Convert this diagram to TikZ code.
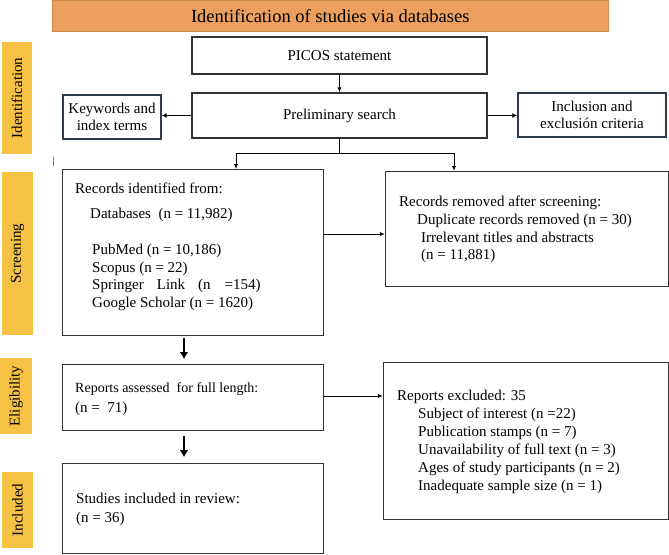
\documentclass[tikz,border=0pt]{standalone}
\usepackage{fontspec}
\setmainfont{Liberation Serif}
\usetikzlibrary{arrows.meta}
\definecolor{titleorange}{HTML}{EC9F5E}
\definecolor{titleedge}{HTML}{C9894F}
\definecolor{sideyellow}{HTML}{F6C246}
\definecolor{navyline}{HTML}{2E3B4B}
\definecolor{boxline}{HTML}{333333}
\begin{document}
\begin{tikzpicture}[x=1pt,y=-1pt,
  txt/.style={font=\fontsize{15}{17.5}\selectfont},
  box/.style={draw=boxline, line width=1.1pt, inner sep=0pt, anchor=north west},
  cbox/.style={draw=boxline, line width=1.1pt, inner sep=0pt, anchor=center, align=center, txt},
  navybox/.style={draw=navyline, line width=1.4pt, inner sep=0pt, anchor=center, align=center, txt},
  titlebar/.style={fill=titleorange, draw=titleedge, line width=0.6pt, inner sep=0pt, anchor=north west, font=\fontsize{18.5}{20}\selectfont},
  sidebar/.style={fill=sideyellow, draw=none, inner sep=0pt, anchor=center, rotate=90, txt},
  lbl/.style={anchor=base west, inner sep=0pt, txt},
  plain/.style={draw=black, line width=0.9pt},
  thinarrow/.style={draw=black, line width=0.9pt, -{Latex[length=5pt,width=4pt]}},
  sidearrow/.style={draw=black, line width=1.7pt, -{Latex[length=5pt,width=5pt]}},
  downarrow/.style={draw=black, line width=1.8pt, -{Latex[length=7pt,width=9pt]}}
]
\useasboundingbox (0,0) rectangle (669,554);

% title bar
\node[titlebar, minimum width=556pt, minimum height=31pt] (title) at (52,0) {Identification of studies via databases};

% side bars
\node[sidebar, minimum width=112pt, minimum height=30pt] (sid) at (17,98) {Identification};
\node[sidebar, minimum width=163pt, minimum height=31pt] (sscr) at (17.5,253.5) {Screening};
\node[sidebar, minimum width=76pt, minimum height=32pt] (selig) at (16,396) {Eligibility};
\node[sidebar, minimum width=76pt, minimum height=31pt] (sinc) at (17.5,510) {Included};

% stray mark
\draw[gray, line width=1pt] (53,157) -- (53,166);

% identification boxes
\node[cbox, minimum width=295pt, minimum height=37pt] (picos) at (339.5,55.5) {PICOS statement};
\node[cbox, minimum width=295pt, minimum height=45pt] (prelim) at (339.5,115.5) {Preliminary search};
\node[navybox, minimum width=98pt, minimum height=44pt] (kw) at (112,117) {Keywords and\\index terms};
\node[navybox, minimum width=148pt, minimum height=44pt] (incl) at (592,115) {Inclusion and\\exclusión criteria};

% main boxes
\node[box, minimum width=261pt, minimum height=166pt] (rid) at (62,169) {};
\node[box, minimum width=283pt, minimum height=115pt] (rrem) at (385,171) {};
\node[box, minimum width=261pt, minimum height=66pt] (elig) at (62,364) {};
\node[box, minimum width=285pt, minimum height=157pt] (rexc) at (383,362) {};
\node[box, minimum width=261pt, minimum height=90pt] (incd) at (62,463) {};

% texts: records identified
\node[lbl] (t11) at (75,193) {Records identified from:};
\node[lbl] (t12) at (90,218) {Databases\ \ (n = 11,982)};
\node[lbl] (t13) at (92,254) {PubMed (n = 10,186)};
\node[lbl] (t14) at (92,272) {Scopus (n = 22)};
\node[lbl] (t15) at (92,289) {Springer\hspace{13pt}Link\hspace{13pt}(n\hspace{14pt}=154)};
\node[lbl] (t16) at (92,307) {Google Scholar (n = 1620)};

% texts: records removed
\node[lbl] (t21) at (399,206) {Records removed after screening:};
\node[lbl] (t22) at (417,224) {Duplicate records removed (n = 30)};
\node[lbl] (t23) at (421,242) {Irrelevant titles and abstracts};
\node[lbl] (t24) at (421,259) {(n = 11,881)};

% texts: eligibility
\node[lbl, font=\fontsize{14}{17}\selectfont] (t31) at (75,392) {Reports assessed\ \ for full length:};
\node[lbl] (t32) at (75,412) {(n =\ \ 71)};

% texts: reports excluded
\node[lbl] (t41) at (397,400) {Reports excluded: 35};
\node[lbl] (t42) at (418,418) {Subject of interest (n =22)};
\node[lbl] (t43) at (418,436) {Publication stamps (n = 7)};
\node[lbl] (t44) at (418,454) {Unavailability of full text (n = 3)};
\node[lbl] (t45) at (418,472) {Ages of study participants (n = 2)};
\node[lbl] (t46) at (418,490) {Inadequate sample size (n = 1)};

% texts: included
\node[lbl] (t51) at (76,503) {Studies included in review:};
\node[lbl] (t52) at (76,522) {(n = 36)};

% connectors
\draw[thinarrow] (picos) -- (prelim);
\draw[sidearrow] (prelim.west) -- (prelim.west -| kw.east);
\draw[sidearrow] (prelim.east) -- (prelim.east -| incl.west);

\coordinate (sl) at (236,153);
\coordinate (sr) at (454,153);
\draw[plain] (prelim.south) -- (prelim.south |- sl);
\draw[plain] (sl) -- (sr);
\draw[thinarrow] (sl) -- (sl |- rid.north);
\draw[thinarrow] (sr) -- (sr |- rrem.north);

\coordinate (m1) at (0,234);
\draw[thinarrow] (rid.east |- m1) -- (rrem.west |- m1);
\coordinate (m2) at (0,396);
\draw[thinarrow] (elig.east |- m2) -- (rexc.west |- m2);

\coordinate (d1) at (184,0);
\draw[downarrow, shorten <=2pt, shorten >=5pt] (rid.south -| d1) -- (elig.north -| d1);
\draw[downarrow, shorten <=5pt, shorten >=6pt] (elig.south -| d1) -- (incd.north -| d1);
\end{tikzpicture}
\end{document}
